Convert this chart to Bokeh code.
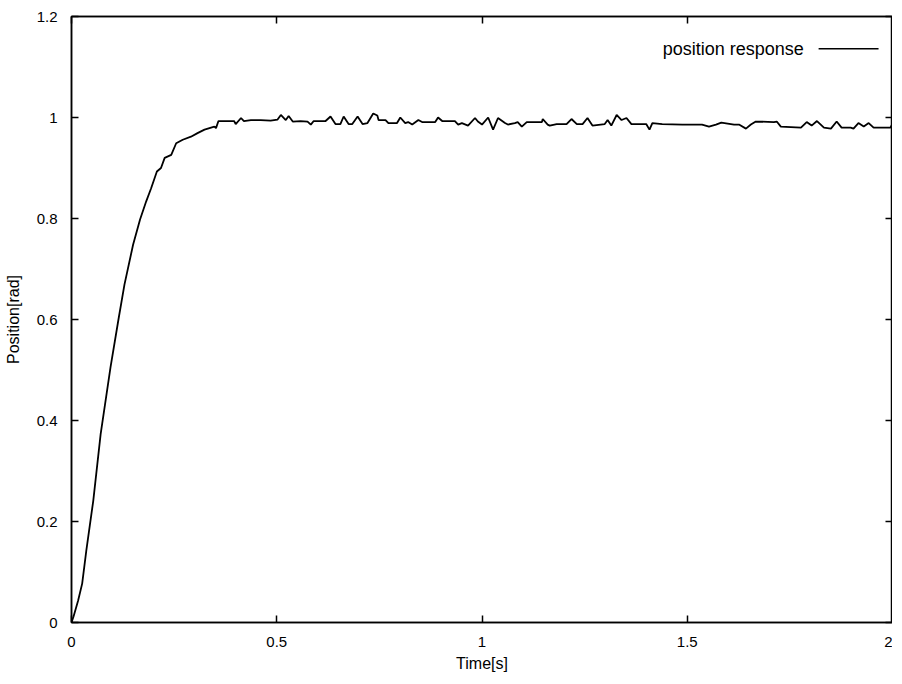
from bokeh.plotting import figure
from bokeh.models import LinearAxis, FixedTicker, Range1d, Label, Arrow
from bokeh.embed import file_html
from bokeh.resources import INLINE

# ---- data ----
time_s = [0, 0.005, 0.016, 0.026, 0.036, 0.053, 0.071, 0.095, 0.115, 0.129,
          0.150, 0.167, 0.182, 0.194, 0.208, 0.218, 0.227, 0.243, 0.255, 0.271,
          0.291, 0.307, 0.324, 0.348, 0.352, 0.358,
          0.396, 0.400, 0.413, 0.420, 0.437, 0.461, 0.485, 0.502, 0.510, 0.522,
          0.529, 0.539, 0.558, 0.575, 0.583, 0.590, 0.619, 0.631, 0.643, 0.655,
          0.663, 0.675, 0.684, 0.697, 0.709, 0.721, 0.735, 0.745,
          0.748, 0.765, 0.772, 0.793, 0.801, 0.813, 0.820, 0.830, 0.845, 0.854,
          0.886, 0.893, 0.903, 0.934, 0.942, 0.951, 0.966, 0.983, 0.990, 1.000,
          1.015, 1.027, 1.039, 1.056, 1.063, 1.080, 1.087, 1.097, 1.109, 1.146,
          1.148, 1.160,
          1.165, 1.182, 1.206, 1.218, 1.231, 1.245, 1.257, 1.269, 1.299, 1.306,
          1.315, 1.328, 1.340, 1.352, 1.364, 1.400, 1.408, 1.415, 1.439, 1.488,
          1.536, 1.553, 1.570, 1.583,
          1.614, 1.626, 1.643, 1.655, 1.667, 1.711, 1.718, 1.728, 1.777, 1.791,
          1.803, 1.816, 1.833, 1.850, 1.864, 1.876, 1.898, 1.905, 1.917, 1.930,
          1.942, 1.954, 1.995, 2.000]
position_rad = [0, 0.012, 0.043, 0.077, 0.142, 0.241, 0.373, 0.505, 0.603, 0.669,
                0.748, 0.798, 0.834, 0.860, 0.893, 0.900, 0.920, 0.926, 0.949, 0.956,
                0.962, 0.969, 0.976, 0.982, 0.979, 0.993,
                0.993, 0.987, 0.999, 0.993, 0.995, 0.995, 0.994, 0.996, 1.005, 0.995,
                1.003, 0.992, 0.993, 0.992, 0.986, 0.993, 0.993, 1.002, 0.987, 0.987,
                1.002, 0.987, 0.987, 1.002, 0.987, 0.989, 1.008, 1.004,
                0.995, 0.995, 0.989, 0.989, 1.000, 0.989, 0.991, 0.986, 0.995, 0.991,
                0.991, 1.000, 0.993, 0.993, 0.986, 0.989, 0.984, 0.999, 0.992, 0.986,
                1.000, 0.976, 0.999, 0.989, 0.986, 0.989, 0.991, 0.982, 0.991, 0.991,
                0.997, 0.986,
                0.984, 0.987, 0.987, 0.997, 0.987, 0.987, 0.999, 0.984, 0.987, 0.995,
                0.984, 1.005, 0.995, 0.999, 0.987, 0.987, 0.976, 0.989, 0.987, 0.986,
                0.986, 0.982, 0.986, 0.990,
                0.986, 0.986, 0.978, 0.986, 0.992, 0.991, 0.992, 0.982, 0.980, 0.991,
                0.984, 0.993, 0.980, 0.978, 0.992, 0.980, 0.980, 0.978, 0.989, 0.982,
                0.989, 0.980, 0.980, 0.988]

x_ticks = [0, 0.5, 1, 1.5, 2]
x_tick_labels = ["0", "0.5", "1", "1.5", "2"]
y_ticks = [0, 0.2, 0.4, 0.6, 0.8, 1, 1.2]
y_tick_labels = ["0", "0.2", "0.4", "0.6", "0.8", "1", "1.2"]
series_name = "position response"

FONT = "Liberation Sans"

p = figure(width=892, height=676, output_backend="svg", toolbar_location=None,
           x_range=Range1d(0, 2), y_range=Range1d(0, 1.2),
           min_border_left=71, min_border_right=0, min_border_top=16, min_border_bottom=54)
p.xgrid.visible = False
p.ygrid.visible = False
p.outline_line_color = "black"
p.outline_line_width = 1.5
p.background_fill_color = "white"
p.border_fill_color = "white"

p.line(time_s, position_rad, line_color="black", line_width=1.8)

def style_axis(ax, ticks, labels, show_labels=True):
    ax.ticker = FixedTicker(ticks=ticks)
    ax.major_label_overrides = {t: l for t, l in zip(ticks, labels)}
    ax.major_tick_in = 7
    ax.major_tick_out = 0
    ax.minor_tick_line_color = None
    ax.major_tick_line_color = "black"
    ax.major_tick_line_width = 1.5
    ax.axis_line_color = "black"
    ax.axis_line_width = 1.5
    ax.major_label_text_font = FONT
    ax.major_label_text_font_size = "15px"
    ax.major_label_text_color = "black" if show_labels else None
    ax.major_label_standoff = 14
    ax.axis_label_text_font = FONT
    ax.axis_label_text_font_size = "16px"
    ax.axis_label_text_font_style = "normal"
    ax.axis_label_text_color = "black"

style_axis(p.xaxis[0], x_ticks, x_tick_labels)
style_axis(p.yaxis[0], y_ticks, y_tick_labels)
p.xaxis[0].axis_label = "Time[s]"
p.xaxis[0].axis_label_standoff = 5
p.yaxis[0].axis_label = "Position[rad]"
p.yaxis[0].axis_label_standoff = 12

for ax, side, ticks, labels in ((LinearAxis(), "above", x_ticks, x_tick_labels),
                                (LinearAxis(), "right", y_ticks, y_tick_labels)):
    style_axis(ax, ticks, labels, show_labels=False)
    ax.major_label_text_font_size = "0px"
    ax.major_label_standoff = 0
    ax.axis_label_standoff = 0
    p.add_layout(ax, side)

# key (gnuplot style: text then line sample)
p.add_layout(Label(x=1.784, y=1.136, text=series_name, text_align="right",
                   text_baseline="middle", text_font=FONT, text_font_size="18px",
                   text_color="black"))
p.add_layout(Arrow(x_start=1.820, y_start=1.136, x_end=1.966, y_end=1.136,
                   end=None, line_color="black", line_width=1.5))

open("out.html", "w").write(file_html(p, INLINE))
